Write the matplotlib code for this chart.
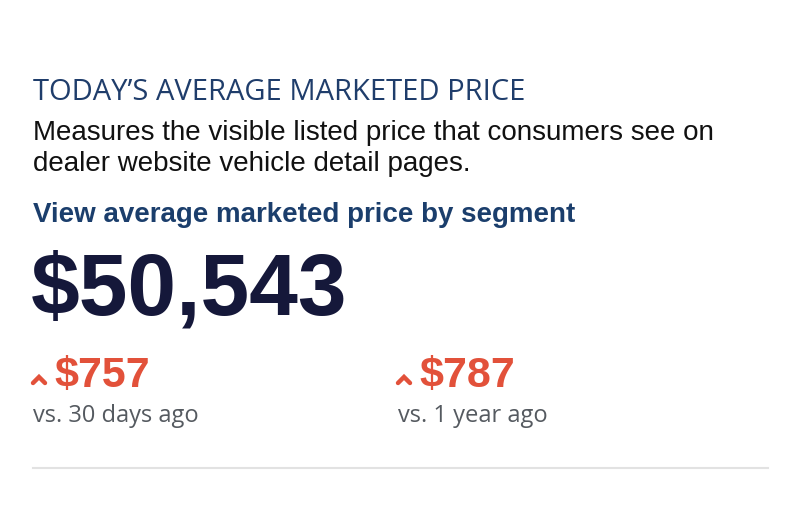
import matplotlib.pyplot as plt
from matplotlib.lines import Line2D

W, H = 800, 507

title = "TODAY\u2019S AVERAGE MARKETED PRICE"
description = ["Measures the visible listed price that consumers see on",
               "dealer website vehicle detail pages."]
link_text = "View average marketed price by segment"
price = 50543
changes = [757, 787]
change_labels = ["vs. 30 days ago", "vs. 1 year ago"]

fig = plt.figure(figsize=(W / 100, H / 100), dpi=100)
fig.patch.set_facecolor('white')


def px(x, y):
    return x / W, 1 - y / H


fig.text(*px(33, 92), title, fontsize=21, family='Open Sans',
         color='#1f3d6b', va='center', ha='left')
for i, line in enumerate(description):
    fig.text(*px(33, 133 + i * 31), line, fontsize=20,
             family='Liberation Sans', color='#111111', va='center')
fig.text(*px(33, 215), link_text, fontsize=20, family='Liberation Sans',
         weight='bold', color='#1b3e6c', va='center')
fig.text(*px(31, 292), f"${price:,}", fontsize=63, family='Liberation Sans',
         weight='bold', color='#15183a', va='center')

red = '#e2513a'
for x0, val, lab in zip([33, 398], changes, change_labels):
    # small up chevron
    xs = [x0 + 0, x0 + 6, x0 + 12]
    ys = [383, 377, 383]
    fig.add_artist(Line2D([x / W for x in xs], [1 - y / H for y in ys],
                          color=red, lw=3.2, solid_capstyle='round',
                          solid_joinstyle='miter'))
    fig.text(*px(x0 + 21, 376), f"${val:,}", fontsize=31,
             family='Liberation Sans', weight='bold', color=red, va='center')
    fig.text(*px(x0, 416), lab, fontsize=17, family='Open Sans',
             color='#555a60', va='center')

fig.add_artist(Line2D([33 / W, 768 / W], [1 - 468 / H] * 2,
                      color='#e2e2e2', lw=1.5))

fig.savefig('out.png', dpi=100)
